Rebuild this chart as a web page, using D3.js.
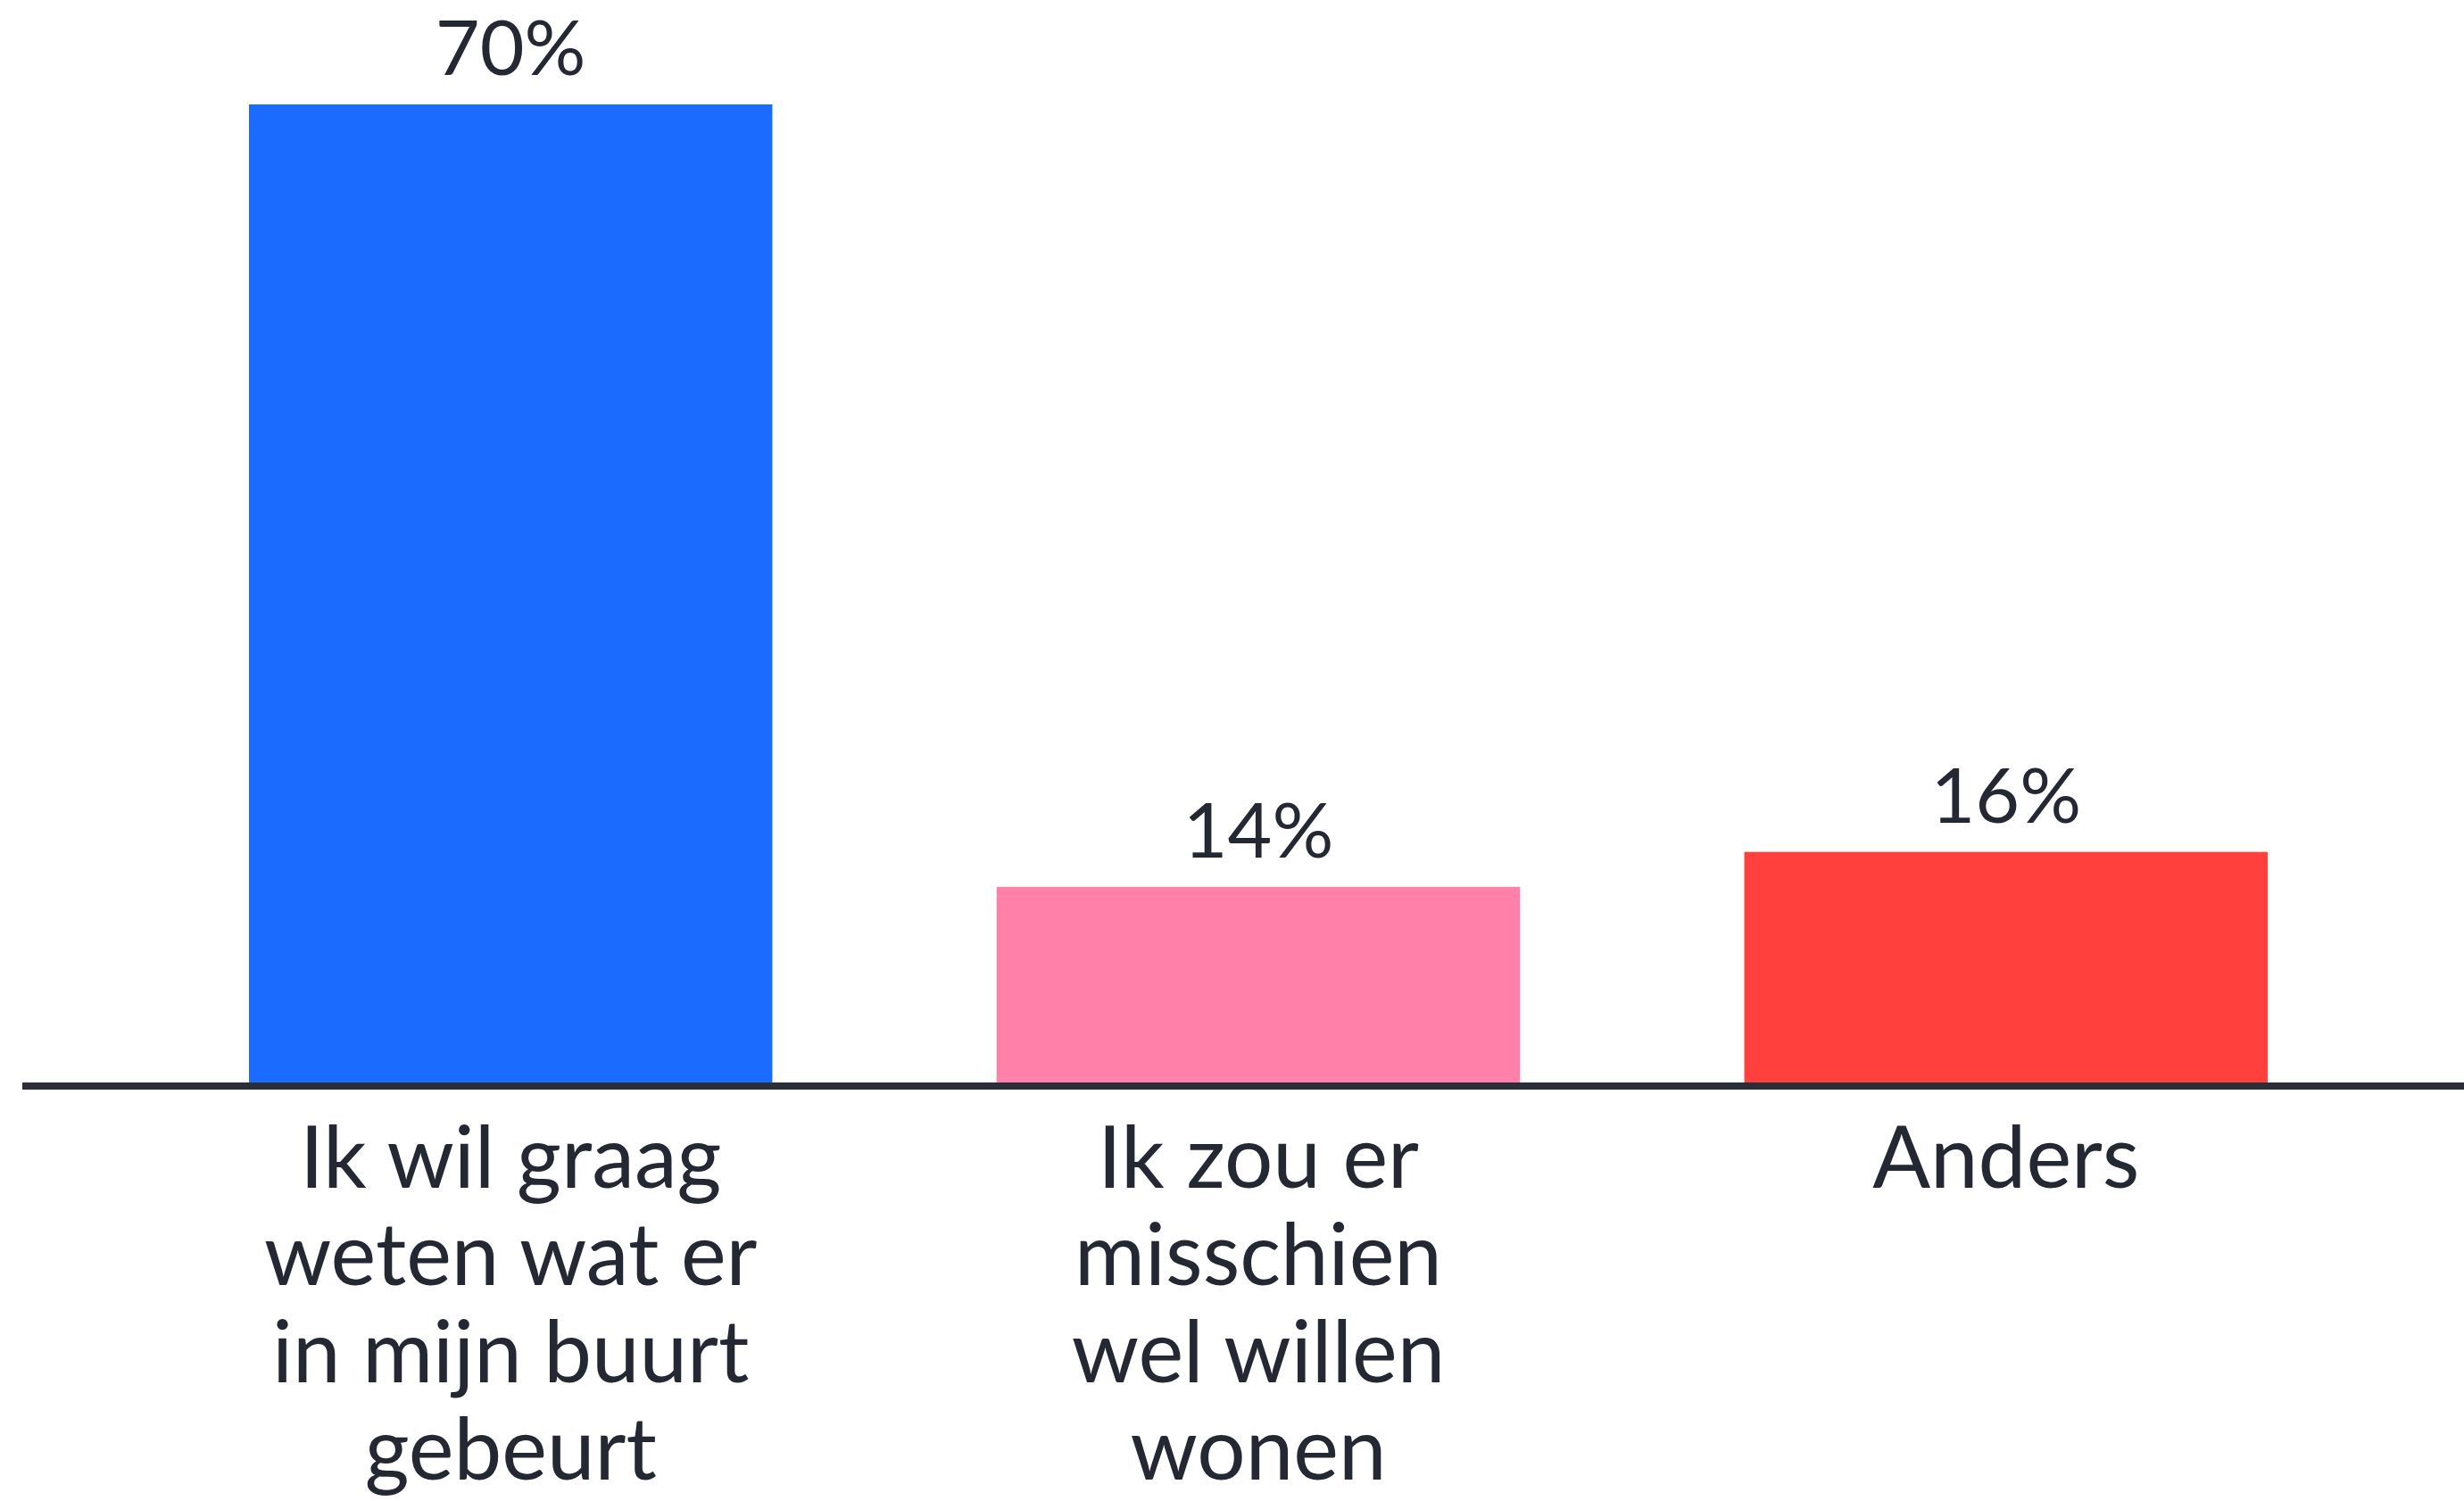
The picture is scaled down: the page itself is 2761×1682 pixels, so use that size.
<!DOCTYPE html>
<html>
<head>
<meta charset="utf-8">
<script src="https://cdn.jsdelivr.net/npm/d3@7"></script>
<style>
  html, body { margin: 0; padding: 0; background: #fff; }
  svg { display: block; }
</style>
</head>
<body>
<div id="chart"></div>
<script>
// categories, values and value labels
var categories = ['wil-weten', 'zou-wonen', 'anders'];
var categoryLines = [
  ['Ik wil graag', 'weten wat er', 'in mijn buurt', 'gebeurt'],
  ['Ik zou er', 'misschien', 'wel willen', 'wonen'],
  ['Anders']
];
var values = [70, 14, 16.5];
var valueLabels = ['70%', '14%', '16%'];
var colors = ['#1b6bff', '#ff80a9', '#ff403d'];

var width = 2761, height = 1682;
var baseY = 1213;
var fontFam = 'Lato, "Open Sans", sans-serif';
var ink = '#232833';

var svg = d3.select('#chart').append('svg')
  .attr('width', width)
  .attr('height', height)
  .attr('viewBox', [0, 0, width, height]);

var x = d3.scaleBand()
  .domain(categories)
  .range([279, 2541])
  .paddingInner(0.3)
  .paddingOuter(0);

var y = d3.scaleLinear()
  .domain([0, 70])
  .range([baseY, 117]);

// bars
svg.append('g')
  .selectAll('rect')
  .data(values)
  .join('rect')
  .attr('x', function (d, i) { return x(categories[i]); })
  .attr('y', function (d) { return y(d); })
  .attr('width', x.bandwidth())
  .attr('height', function (d) { return y(0) - y(d); })
  .attr('fill', function (d, i) { return colors[i]; });

// baseline
svg.append('line')
  .attr('x1', 25)
  .attr('x2', width)
  .attr('y1', baseY + 4)
  .attr('y2', baseY + 4)
  .attr('stroke', '#2a2e37')
  .attr('stroke-width', 8);

// value labels
svg.append('g')
  .selectAll('text')
  .data(values)
  .join('text')
  .attr('x', function (d, i) { return x(categories[i]) + x.bandwidth() / 2; })
  .attr('y', function (d) { return y(d) - 33; })
  .attr('text-anchor', 'middle')
  .attr('font-family', fontFam)
  .attr('font-size', 86)
  .attr('fill', ink)
  .text(function (d, i) { return valueLabels[i]; });

// category labels
var cat = svg.append('g')
  .selectAll('text')
  .data(categoryLines)
  .join('text')
  .attr('x', function (d, i) { return x(categories[i]) + x.bandwidth() / 2; })
  .attr('y', 1331)
  .attr('text-anchor', 'middle')
  .attr('font-family', fontFam)
  .attr('font-size', 96)
  .attr('fill', ink);

cat.selectAll('tspan')
  .data(function (d) { return d; })
  .join('tspan')
  .attr('x', function () { return d3.select(this.parentNode).attr('x'); })
  .attr('dy', function (d, j) { return j === 0 ? 0 : 109; })
  .text(function (d) { return d; });
</script>
</body>
</html>
